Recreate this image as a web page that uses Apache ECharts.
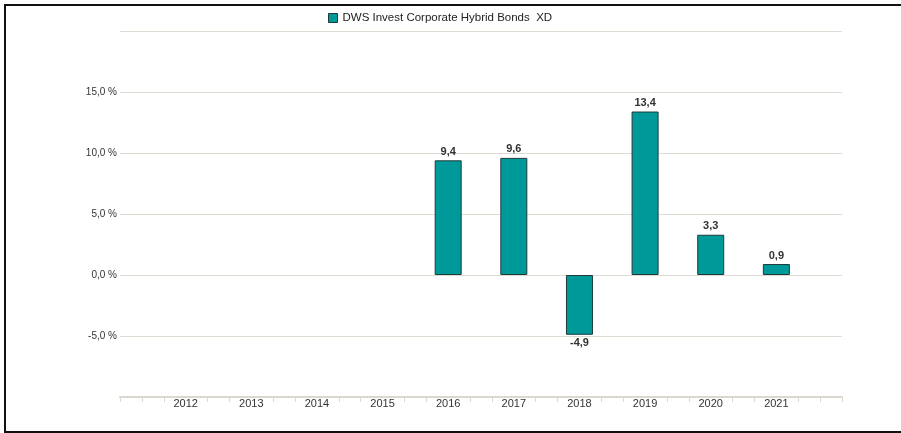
<!DOCTYPE html>
<html><head><meta charset="utf-8">
<script src="https://cdn.jsdelivr.net/npm/echarts@6/dist/echarts.min.js"></script>
<style>html,body{margin:0;padding:0;background:#fff}#c{width:901px;height:433px}</style>
</head><body><div id="c"></div>
<script>
var seriesName = 'DWS Invest Corporate Hybrid Bonds  XD';
var years = [2016, 2017, 2018, 2019, 2020, 2021];
var values = [9.4, 9.6, -4.9, 13.4, 3.3, 0.9];
var yearLabels = [2012, 2013, 2014, 2015, 2016, 2017, 2018, 2019, 2020, 2021];
var yTickLabels = [-5, 0, 5, 10, 15];

function fmt(v){ return v.toFixed(1).replace('.', ','); }

var chart = echarts.init(document.getElementById('c'));
chart.setOption({
  animation: false,
  textStyle: {fontFamily: 'Liberation Sans, Arial, sans-serif'},
  legend: {
    top: 12, left: 328, padding: 0,
    itemWidth: 9, itemHeight: 9, itemGap: 5,
    icon: 'rect',
    textStyle: {fontSize: 11.5, color: '#222', padding: [0,0,0,0]},
    data: [{name: seriesName, itemStyle: {color: '#009999', borderColor: '#1d3b3b', borderWidth: 1}}]
  },
  grid: {left: 120, right: 59, top: 31, bottom: 36},
  xAxis: {
    type: 'value', min: 2011, max: 2022, interval: 1,
    splitLine: {show: false},
    axisLine: {show: true, onZero: false, lineStyle: {color: '#dcd8cf', width: 2}},
    axisTick: {show: true, customValues: [2011, 2022], length: 5, lineStyle: {color: '#dcd8cf'}},
    minorTick: {show: true, splitNumber: 3, length: 5, lineStyle: {color: '#dcd8cf'}},
    axisLabel: {
      customValues: yearLabels,
      color: '#333', fontSize: 11, margin: 1,
      formatter: function(v){ return yearLabels.indexOf(v) >= 0 ? String(v) : ''; }
    }
  },
  yAxis: {
    type: 'value', min: -10, max: 20, interval: 5,
    axisLine: {show: false}, axisTick: {show: false},
    splitLine: {lineStyle: {color: '#dedbd3', width: 1}},
    axisLabel: {
      color: '#333', fontSize: 10, margin: 3,
      formatter: function(v){ return yTickLabels.indexOf(v) >= 0 ? fmt(v) + ' %' : ''; }
    }
  },
  series: [{
    name: seriesName, type: 'bar', barWidth: 27,
    data: years.map(function(y, i){
      var item = {value: [y, values[i]]};
      if (values[i] < 0) item.label = {position: 'bottom'};
      return item;
    }),
    itemStyle: {color: '#009999', borderColor: '#1d3b3b', borderWidth: 1},
    label: {
      show: true, color: '#333', fontSize: 11, fontWeight: 'bold', distance: 3,
      position: 'top',
      formatter: function(p){ return fmt(p.value[1]); }
    }
  }],
  graphic: [{
    type: 'polyline', silent: true,
    shape: {points: [[901,5],[5,5],[5,432],[901,432]]},
    style: {stroke: '#111', lineWidth: 2, fill: null}
  }]
});
</script></body></html>
